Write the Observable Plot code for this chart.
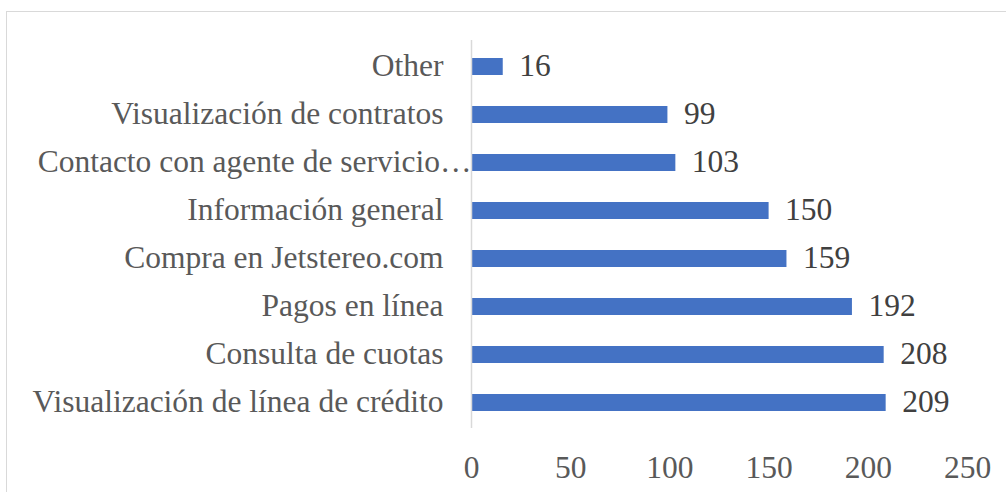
<!DOCTYPE html>
<html>
<head>
<meta charset="utf-8">
<script src="https://cdn.jsdelivr.net/npm/d3@7"></script>
<script src="https://cdn.jsdelivr.net/npm/@observablehq/plot@0.6"></script>
<style>
  html, body { margin: 0; padding: 0; background: #fff; }
  #wrap { position: relative; width: 1006px; height: 492px; overflow: hidden; }
  #frame { position: absolute; left: 6px; top: 11px; width: 1100px; height: 600px; border: 1px solid #d9d9d9; box-sizing: border-box; }
  #chart { position: absolute; left: 0; top: 0; }
</style>
</head>
<body>
<div id="wrap"><div id="frame"></div><div id="chart"></div></div>
<script>
const categories = [
  "Other",
  "Visualización de contratos",
  "Contacto con agente de servicio…",
  "Información general",
  "Compra en Jetstereo.com",
  "Pagos en línea",
  "Consulta de cuotas",
  "Visualización de línea de crédito"
];
const values = [16, 99, 103, 150, 159, 192, 208, 209];
const xTicks = [0, 50, 100, 150, 200, 250];

const data = categories.map((c, i) => ({category: c, value: values[i]}));
const truncated = categories.filter(c => c.endsWith("…"));
const normal = categories.filter(c => !c.endsWith("…"));

const font = "'Liberation Serif', 'Times New Roman', serif";
const fs = 31.5;

const chart = Plot.plot({
  width: 1006,
  height: 492,
  marginTop: 40,
  marginBottom: 64,
  marginLeft: 471,
  marginRight: 39,
  style: {fontFamily: font, fontSize: fs + "px", background: "transparent", color: "#595959", overflow: "visible"},
  x: {domain: [0, 250], axis: null},
  y: {domain: categories, paddingInner: 0.65, paddingOuter: 0.325, axis: null},
  marks: [
    Plot.barX(data, {x: "value", y: "category", fill: "#4472C4"}),
    Plot.ruleX([0], {stroke: "#d9d9d9", strokeWidth: 1.5}),
    Plot.text(data, {x: "value", y: "category", text: d => String(d.value), textAnchor: "start", dx: 16, dy: -1, fill: "#404040", fontSize: fs}),
    Plot.axisY(normal, {tickSize: 0, tickPadding: 28, dy: -1, fill: "#595959", fontSize: fs, label: null}),
    Plot.axisY(truncated, {tickSize: 0, tickPadding: 0, dy: -1, fill: "#595959", fontSize: fs, label: null}),
    Plot.axisX(xTicks, {tickSize: 0, tickPadding: 27, fill: "#595959", fontSize: fs, label: null})
  ]
});
document.getElementById("chart").appendChild(chart);
</script>
</body>
</html>
